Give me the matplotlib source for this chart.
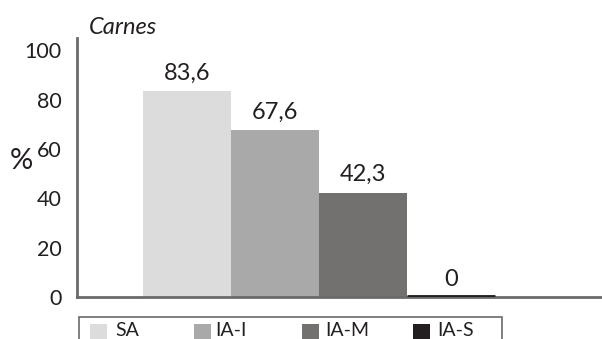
import matplotlib
matplotlib.use("Agg")
import matplotlib.pyplot as plt
from matplotlib.patches import Rectangle

categories = ["SA", "IA-I", "IA-M", "IA-S"]
values = [83.6, 67.6, 42.3, 0.0]
value_labels = ["83,6", "67,6", "42,3", "0"]
colors = ["#dcdcdc", "#a9a9a9", "#72716f", "#231f20"]
yticks = [0, 20, 40, 60, 80, 100]

plt.rcParams["font.family"] = ["Lato", "DejaVu Sans"]
TXT = "#231f20"
SPINE = "#6a6a6a"

W, H = 602, 339
fig = plt.figure(figsize=(W / 100, H / 100), dpi=100)


def px(x, y):
    """Pixel position (from top-left) to figure fraction."""
    return x / W, 1 - y / H


# axes box in pixels: left 77, right 602, bottom 297, top 38
ax = fig.add_axes([77 / W, 1 - 297 / H, (602 - 77) / W, (297 - 38) / H])

x = list(range(len(categories)))
ax.bar(x, values, width=1.0, color=colors, edgecolor="none", zorder=2)
# zero-height bar still shows as a dark rule on the baseline
for xi, v, c in zip(x, values, colors):
    if v == 0:
        ax.bar(xi, v, width=1.0, color=c, edgecolor=c, linewidth=3.5, zorder=3)

for xi, v, lab in zip(x, values, value_labels):
    ax.text(xi, v + 3.0, lab, ha="center", va="bottom", fontsize=17,
            color=TXT)

ax.set_xlim(-1.25, 4.72)
ax.set_ylim(0, 105)
ax.set_xticks([])
ax.set_yticks(yticks)
ax.set_yticklabels([str(t) for t in yticks], fontsize=15.5, color=TXT)
ax.tick_params(axis="y", length=0, pad=11)

for side in ["top", "right"]:
    ax.spines[side].set_visible(False)
for side in ["left", "bottom"]:
    ax.spines[side].set_color(SPINE)
    ax.spines[side].set_linewidth(2)

fig.text(*px(89, 27), "Carnes", fontsize=17, style="italic",
         color=TXT, ha="left", va="center")
fig.text(*px(10, 161), "%", fontsize=21, color=TXT,
         ha="left", va="center")

# legend strip along the bottom edge
fig.patches.append(Rectangle(px(79, 345), (502 - 79) / W, 28 / H,
                             transform=fig.transFigure, facecolor="none",
                             edgecolor=SPINE, linewidth=1.2))
swatch_x = [90, 194, 302, 413]
label_x = [115, 215, 325, 437]
for sx, lx, lab, c in zip(swatch_x, label_x, categories, colors):
    fig.patches.append(Rectangle(px(sx, 341), 17 / W, 17 / H,
                                 transform=fig.transFigure, facecolor=c,
                                 edgecolor="none"))
    fig.text(*px(lx, 331), lab, fontsize=14, color=TXT,
             ha="left", va="center")

fig.savefig("out.png", dpi=100)
